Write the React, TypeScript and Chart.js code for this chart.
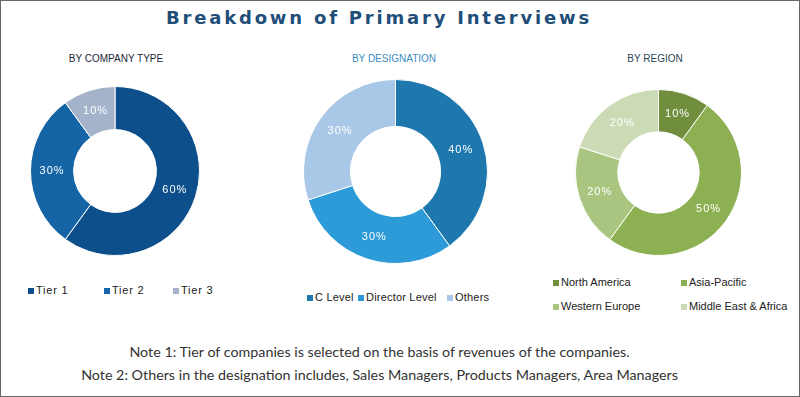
import React, { useEffect, useRef } from 'react';
import { Chart, registerables } from 'chart.js';

Chart.register(...registerables);

const TITLE = 'Breakdown of Primary Interviews';

const companyTitle = 'BY COMPANY TYPE';
const companyLabels = ['Tier 1', 'Tier 2', 'Tier 3'];
const companyValues = [60, 30, 10];
const companyColors = ['#0C4F8A', '#1564A6', '#A4B3CA'];

const designationTitle = 'BY DESIGNATION';
const designationLabels = ['C Level', 'Director Level', 'Others'];
const designationValues = [40, 30, 30];
const designationColors = ['#1E78AE', '#2C9BD8', '#A9C8E7'];

const regionTitle = 'BY REGION';
const regionLabels = ['North America', 'Asia-Pacific', 'Western Europe', 'Middle East & Africa'];
const regionValues = [10, 50, 20, 20];
const regionColors = ['#708E3E', '#8DB052', '#AAC57F', '#CADBB5'];

const notes = [
  'Note 1: Tier of companies is selected on the basis of revenues of the companies.',
  'Note 2: Others in the designation includes, Sales Managers, Products Managers, Area Managers',
];

const pctLabels = {
  id: 'pctLabels',
  afterDatasetsDraw(chart: any) {
    const ctx = chart.ctx;
    const meta = chart.getDatasetMeta(0);
    const data = chart.data.datasets[0].data;
    ctx.save();
    ctx.fillStyle = '#ffffff';
    ctx.font = '11px "Liberation Sans", Arial, sans-serif';
    ctx.textAlign = 'center';
    ctx.textBaseline = 'middle';
    try { ctx.letterSpacing = '1px'; } catch (e) {}
    meta.data.forEach((arc: any, i: number) => {
      const p = arc.tooltipPosition(false);
      ctx.fillText(data[i] + '%', p.x, p.y);
    });
    ctx.restore();
  },
};

type DonutProps = {
  labels: string[];
  values: number[];
  colors: string[];
  left: number;
  top: number;
  size: number;
};

function Donut({ labels, values, colors, left, top, size }: DonutProps) {
  const ref = useRef<HTMLCanvasElement | null>(null);
  useEffect(() => {
    if (!ref.current) return;
    const chart = new Chart(ref.current, {
      type: 'doughnut',
      data: {
        labels,
        datasets: [
          {
            data: values,
            backgroundColor: colors,
            borderColor: '#ffffff',
            borderWidth: 1,
          },
        ],
      },
      options: {
        responsive: false,
        animation: false,
        devicePixelRatio: 1,
        cutout: '49%',
        layout: { padding: 0 },
        plugins: {
          legend: { display: false },
          tooltip: { enabled: false },
          title: { display: false },
        },
      },
      plugins: [pctLabels],
    } as any);
    return () => chart.destroy();
  }, []);
  return (
    <canvas
      ref={ref}
      width={size}
      height={size}
      style={{ position: 'absolute', left, top, width: size, height: size }}
    />
  );
}

type LegendItem = { label: string; color: string; x: number; y: number };

function Legend({ items, spacing }: { items: LegendItem[]; spacing: number }) {
  return (
    <>
      {items.map((it) => (
        <React.Fragment key={it.label}>
          <div
            style={{
              position: 'absolute',
              left: it.x,
              top: it.y - 2,
              width: 6,
              height: 6,
              background: it.color,
            }}
          />
          <div
            style={{
              position: 'absolute',
              left: it.x + 8,
              top: it.y - 7,
              height: 14,
              lineHeight: '14px',
              fontSize: 11,
              letterSpacing: spacing + 'px',
              fontFamily: '"Liberation Sans", Arial, sans-serif',
              color: '#222',
              whiteSpace: 'nowrap',
            }}
          >
            {it.label}
          </div>
        </React.Fragment>
      ))}
    </>
  );
}

const subStyle = (cx: number, color: string): React.CSSProperties => ({
  position: 'absolute',
  left: cx - 100,
  width: 200,
  top: 51,
  textAlign: 'center',
  fontSize: 10,
  lineHeight: '14px',
  fontFamily: '"Liberation Sans", Arial, sans-serif',
  color,
  whiteSpace: 'nowrap',
});

export default function App() {
  const companyLegend: LegendItem[] = companyLabels.map((l, i) => ({
    label: l,
    color: companyColors[i],
    x: [27, 103, 172][i],
    y: 289,
  }));
  const designationLegend: LegendItem[] = designationLabels.map((l, i) => ({
    label: l,
    color: designationColors[i],
    x: [306, 357, 446][i],
    y: 296,
  }));
  const regionLegend: LegendItem[] = regionLabels.map((l, i) => ({
    label: l,
    color: regionColors[i],
    x: [552, 680][i % 2],
    y: [281, 305][Math.floor(i / 2)],
  }));

  return (
    <div
      style={{
        position: 'absolute',
        left: 0,
        top: 0,
        width: 800,
        height: 397,
        boxSizing: 'border-box',
        border: '1px solid #666',
        background: '#fff',
        overflow: 'hidden',
      }}
    >
      <div
        style={{
          position: 'absolute',
          left: 0,
          width: 756,
          top: 4,
          textAlign: 'center',
          fontFamily: '"DejaVu Sans", Verdana, sans-serif',
          fontWeight: 'bold',
          fontSize: 18,
          lineHeight: '26px',
          letterSpacing: '2.8px',
          color: '#1F4E79',
          whiteSpace: 'nowrap',
        }}
      >
        {TITLE}
      </div>

      <div style={subStyle(115, '#1B2838')}>{companyTitle}</div>
      <div style={subStyle(393, '#3A8CC0')}>{designationTitle}</div>
      <div style={subStyle(654, '#2E4654')}>{regionTitle}</div>

      <Donut labels={companyLabels} values={companyValues} colors={companyColors} left={29} top={85} size={170} />
      <Donut labels={designationLabels} values={designationValues} colors={designationColors} left={302} top={78} size={185} />
      <Donut labels={regionLabels} values={regionValues} colors={regionColors} left={574} top={88} size={167} />

      <Legend items={companyLegend} spacing={0.8} />
      <Legend items={designationLegend} spacing={0.2} />
      <Legend items={regionLegend} spacing={0} />

      {notes.map((n, i) => (
        <div
          key={i}
          style={{
            position: 'absolute',
            left: 0,
            width: 757,
            top: [342, 365][i],
            textAlign: 'center',
            fontFamily: 'Lato, "Open Sans", sans-serif',
            fontSize: 14.3,
            lineHeight: '18px',
            color: '#333',
            whiteSpace: 'nowrap',
          }}
        >
          {n}
        </div>
      ))}
    </div>
  );
}
